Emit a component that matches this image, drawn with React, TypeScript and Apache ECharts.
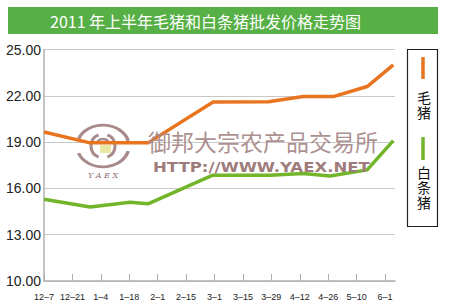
import React, { useEffect, useRef } from "react";
import * as echarts from "echarts";

const title = "2011 年上半年毛猪和白条猪批发价格走势图";
const xLabels = ["12–7", "12–21", "1–4", "1–18", "2–1", "2–15", "3–1", "3–15", "3–29", "4–12", "4–26", "5–10", "6–1"];
const yTicks = [10, 13, 16, 19, 22, 25];

// position along the date axis (in label steps) and price
const liveHogX = [0, 1.62, 3.66, 5.95, 7.9, 9.12, 10.18, 11.37, 12.29];
const liveHogY = [19.65, 18.95, 18.95, 21.6, 21.62, 21.95, 21.95, 22.6, 24.0];
const whiteHogX = [0, 1.62, 3.03, 3.66, 5.92, 7.96, 9.12, 10.07, 11.37, 12.29];
const whiteHogY = [15.3, 14.8, 15.1, 15.0, 16.85, 16.85, 16.97, 16.8, 17.2, 19.1];

const seriesNames = ["毛猪", "白条猪"];
const watermarkCn = "御邦大宗农产品交易所";
const watermarkUrl = "HTTP://WWW.YAEX.NET";

const ORANGE = "#e9741f";
const GREEN = "#73b52a";
const MAUVE = "#a88a8a";

function verticalText(text: string, x: number, y0: number, step: number) {
  return text.split("").map((c, i) => ({
    type: "text",
    style: {
      text: c,
      x,
      y: y0 + step * i + step / 2,
      textAlign: "center",
      textVerticalAlign: "middle",
      fontSize: 14,
      lineHeight: 14,
      fontFamily: "Noto Sans CJK SC",
      fill: "#111",
    },
  }));
}

export default function App() {
  const ref = useRef<HTMLDivElement>(null);
  useEffect(() => {
    if (!ref.current) return;
    const chart = echarts.init(ref.current, null, { renderer: "svg" });
    chart.setOption({
      animation: false,
      backgroundColor: "#fff",
      grid: { left: 44, top: 49.5, right: 55, bottom: 24, containLabel: false },
      xAxis: {
        type: "value",
        min: 0,
        max: 12.35,
        interval: 1,
        axisLine: { show: true, lineStyle: { color: "#b0b0b0", width: 1.5 } },
        axisTick: { show: true, inside: true, length: 7, lineStyle: { color: "#b0b0b0" } },
        splitLine: { show: false },
        axisLabel: {
          showMaxLabel: false,
          margin: 11,
          fontSize: 9,
          color: "#222",
          fontFamily: "Liberation Sans",
          formatter: (v: number) => (Number.isInteger(v) && xLabels[v] !== undefined ? xLabels[v] : ""),
        },
      },
      yAxis: {
        type: "value",
        min: yTicks[0],
        max: yTicks[yTicks.length - 1],
        interval: 3,
        axisLine: { show: true, lineStyle: { color: "#b0b0b0", width: 1.5 } },
        axisTick: { show: false },
        splitLine: { show: true, lineStyle: { color: "#c8c8c8", width: 1 } },
        axisLabel: {
          margin: 3,
          fontSize: 14,
          color: "#222",
          fontFamily: "Liberation Sans",
          formatter: (v: number) => v.toFixed(2),
        },
      },
      series: [
        {
          name: seriesNames[0],
          type: "line",
          data: liveHogX.map((x, i) => [x, liveHogY[i]]),
          symbol: "none",
          lineStyle: { color: ORANGE, width: 3.5 },
          z: 3,
        },
        {
          name: seriesNames[1],
          type: "line",
          data: whiteHogX.map((x, i) => [x, whiteHogY[i]]),
          symbol: "none",
          lineStyle: { color: GREEN, width: 3.5 },
          z: 3,
        },
      ],
      graphic: [
        { type: "rect", shape: { x: 8, y: 7, width: 430, height: 27 }, style: { fill: "#57b045" } },
        {
          type: "text",
          style: {
            text: title,
            x: 50,
            y: 21,
            textVerticalAlign: "middle",
            fontSize: 16,
            fontFamily: "Noto Sans CJK SC",
            fill: "#fff",
          },
        },
        // legend box
        {
          type: "rect",
          shape: { x: 407.5, y: 49.5, width: 30, height: 177 },
          style: { fill: "#fff", stroke: "#222", lineWidth: 1.2 },
        },
        { type: "line", shape: { x1: 423, y1: 57, x2: 423, y2: 79 }, style: { stroke: ORANGE, lineWidth: 3.5 } },
        ...verticalText(seriesNames[0], 424, 89, 15),
        { type: "line", shape: { x1: 423, y1: 137, x2: 423, y2: 160 }, style: { stroke: GREEN, lineWidth: 3.5 } },
        ...verticalText(seriesNames[1], 424, 164, 15.3),
        // watermark logo
        {
          type: "group",
          x: 103,
          y: 146,
          z: 10,
          children: [
            { type: "arc", scaleY: 0.8, shape: { cx: 0, cy: 0, r: 26, startAngle: Math.PI + 0.35, endAngle: 2 * Math.PI - 0.25 }, style: { stroke: MAUVE, lineWidth: 3.5, fill: "none" } },
            { type: "arc", scaleY: 0.8, shape: { cx: 0, cy: 0, r: 26, startAngle: 0.25, endAngle: Math.PI - 0.35 }, style: { stroke: MAUVE, lineWidth: 3.5, fill: "none" } },
            { type: "arc", shape: { cx: 0, cy: 0, r: 12, startAngle: Math.PI * 0.62, endAngle: Math.PI * 1.38 }, style: { stroke: MAUVE, lineWidth: 3, fill: "none" } },
            { type: "arc", shape: { cx: 0, cy: 0, r: 12, startAngle: -Math.PI * 0.38, endAngle: Math.PI * 0.38 }, style: { stroke: MAUVE, lineWidth: 3, fill: "none" } },
            { type: "arc", shape: { cx: 0, cy: 0, r: 7, startAngle: Math.PI * 1.2, endAngle: Math.PI * 1.8 }, style: { stroke: MAUVE, lineWidth: 2.5, fill: "none" } },
            { type: "rect", shape: { x: -3, y: -1, width: 11, height: 8 }, style: { fill: "#e8e7a6" } },
          ],
        },
        {
          type: "text",
          z: 10,
          style: {
            text: "Y A E X",
            x: 103,
            y: 175,
            textAlign: "center",
            textVerticalAlign: "middle",
            fontSize: 8,
            fontStyle: "italic",
            fontFamily: "DejaVu Serif",
            fill: "#8a7070",
          },
        },
        {
          type: "text",
          z: 10,
          style: {
            text: watermarkCn,
            x: 148,
            y: 141,
            textVerticalAlign: "middle",
            fontSize: 23,
            fontFamily: "Noto Sans CJK SC",
            fill: MAUVE,
            opacity: 0.95,
          },
        },
        {
          type: "text",
          z: 10,
          x: 153,
          y: 167,
          scaleX: 1.18,
          style: {
            text: watermarkUrl,
            x: 0,
            y: 0,
            textVerticalAlign: "middle",
            fontSize: 14,
            fontWeight: "bold",
            fontFamily: "DejaVu Sans",
            fill: "#9e7c7c",
          },
        },
      ],
    });
    return () => chart.dispose();
  }, []);
  return <div ref={ref} style={{ position: "absolute", left: 0, top: 0, width: 450, height: 305 }} />;
}
